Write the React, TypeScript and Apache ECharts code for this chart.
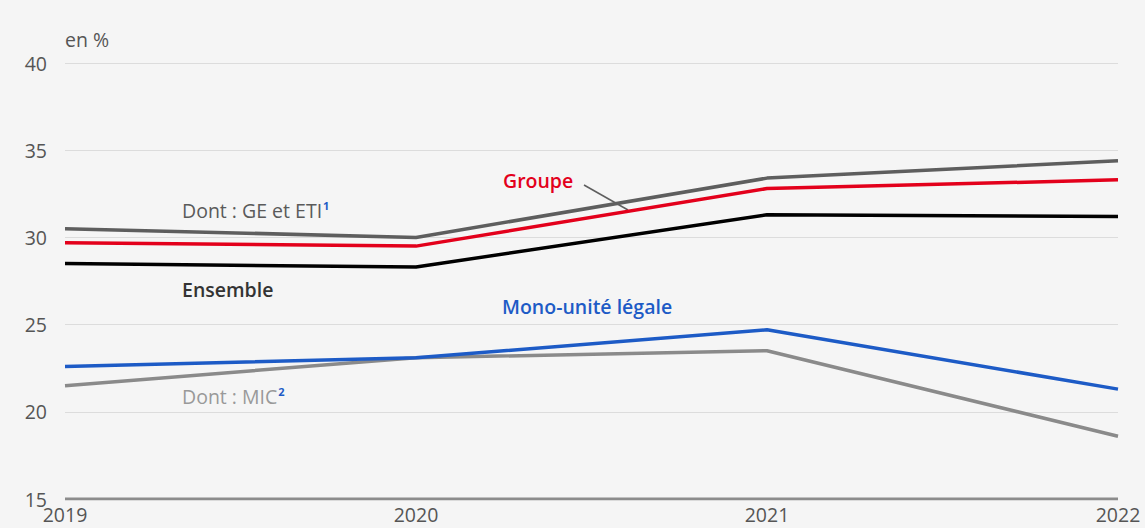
import React, { useEffect, useRef } from "react";
import * as echarts from "echarts";

const years = ["2019", "2020", "2021", "2022"];
const geEti = [30.5, 30.0, 33.4, 34.4];
const groupe = [29.7, 29.5, 32.8, 33.3];
const ensemble = [28.5, 28.3, 31.3, 31.2];
const mono = [22.6, 23.1, 24.7, 21.3];
const mic = [21.5, 23.1, 23.5, 18.6];

const FONT = "'Open Sans', 'Noto Sans', sans-serif";
const FS = 19.5;

export default function App() {
  const ref = useRef<HTMLDivElement>(null);
  useEffect(() => {
    if (!ref.current) return;
    const chart = echarts.init(ref.current, undefined, { renderer: "svg" });
    const line = (name: string, data: number[], color: string, z: number) => ({
      name,
      type: "line",
      data,
      symbol: "none",
      z,
      lineStyle: { color, width: 3.5 },
    });
    const sup = { fill: "#1d5bc6", font: `bold 11px ${FONT}`, verticalAlign: "top", padding: [0, 0, 9, 1] };
    chart.setOption({
      animation: false,
      backgroundColor: "#f5f5f5",
      textStyle: { fontFamily: FONT },
      grid: { left: 65, right: 27, top: 63, bottom: 29, containLabel: false },
      xAxis: {
        type: "category",
        data: years,
        boundaryGap: false,
        axisLine: { show: false },
        axisTick: { show: false },
        axisLabel: { color: "#555", fontSize: FS, fontFamily: FONT, margin: 5 },
      },
      yAxis: {
        type: "value",
        min: 15,
        max: 40,
        interval: 5,
        axisLine: { show: false },
        axisTick: { show: false },
        axisLabel: { color: "#555", fontSize: FS, fontFamily: FONT, margin: 18 },
        splitLine: { lineStyle: { color: "#dcdcdc", width: 1 } },
      },
      series: [
        line("Dont : MIC", mic, "#8a8a8a", 2),
        line("Mono-unité légale", mono, "#1d5bc6", 3),
        line("Ensemble", ensemble, "#000000", 4),
        line("Groupe", groupe, "#e3001b", 5),
        line("Dont : GE et ETI", geEti, "#5e5e5e", 4),
        {
          type: "line",
          data: [15, 15, 15, 15],
          symbol: "none",
          silent: true,
          z: 1,
          lineStyle: { color: "#8c8c8c", width: 3 },
        },
      ],
      graphic: [
        {
          type: "text",
          x: 65,
          y: 39,
          style: { text: "en %", fill: "#555", font: `${FS}px ${FONT}`, verticalAlign: "middle" },
        },
        {
          type: "text",
          x: 182,
          y: 210,
          style: {
            text: "{a|Dont : GE et ETI}{s|1}",
            verticalAlign: "middle",
            rich: {
              a: { fill: "#5a5a5a", font: `${FS}px ${FONT}` },
              s: sup,
            },
          },
        },
        {
          type: "text",
          x: 503,
          y: 180,
          style: { text: "Groupe", fill: "#e3001b", font: `600 ${FS}px ${FONT}`, verticalAlign: "middle" },
        },
        {
          type: "line",
          shape: { x1: 584, y1: 185, x2: 628, y2: 210 },
          style: { stroke: "#5e5e5e", lineWidth: 1.5 },
        },
        {
          type: "text",
          x: 182,
          y: 289,
          style: { text: "Ensemble", fill: "#333", font: `600 ${FS}px ${FONT}`, verticalAlign: "middle" },
        },
        {
          type: "text",
          x: 502,
          y: 306,
          style: { text: "Mono-unité légale", fill: "#1d5bc6", font: `600 ${FS}px ${FONT}`, verticalAlign: "middle" },
        },
        {
          type: "text",
          x: 182,
          y: 396,
          style: {
            text: "{a|Dont : MIC}{s|2}",
            verticalAlign: "middle",
            rich: {
              a: { fill: "#999", font: `${FS}px ${FONT}` },
              s: sup,
            },
          },
        },
      ],
    });
    return () => chart.dispose();
  }, []);
  return (
    <div
      ref={ref}
      style={{ position: "fixed", left: 0, top: 0, width: 1145, height: 528 }}
    />
  );
}
